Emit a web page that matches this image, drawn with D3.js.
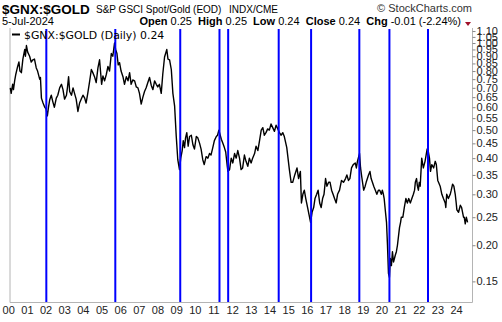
<!DOCTYPE html>
<html>
<head>
<meta charset="utf-8">
<script src="https://cdn.jsdelivr.net/npm/d3@7"></script>
<style>
  html, body { margin: 0; padding: 0; background: #fff; }
  svg { display: block; }
  text { font-family: "Liberation Sans", Arial, sans-serif; }
</style>
</head>
<body>
<svg id="chart" width="502" height="322"></svg>
<script>
// $GNX:$GOLD ratio, daily close (sampled): swing points
const dates = [
  "2000-01-03","2000-02-18","2000-03-28","2000-05-26","2000-08-07","2000-10-12","2000-11-14","2000-12-08",
  "2001-01-15","2001-03-21","2001-05-25","2001-07-31","2001-09-03","2001-11-07","2001-12-28",
  "2002-02-11","2002-04-16","2002-06-21","2002-08-26","2002-10-30",
  "2003-01-06","2003-02-17","2003-04-14","2003-06-13","2003-08-18","2003-10-23","2003-12-29",
  "2004-02-27","2004-05-07","2004-07-08","2004-09-13","2004-10-15","2004-11-24",
  "2005-01-21","2005-03-28","2005-06-02","2005-08-04","2005-09-20","2005-11-10",
  "2006-01-16","2006-03-23","2006-05-26","2006-07-27","2006-10-04","2006-12-05",
  "2007-01-08","2007-03-14","2007-05-18","2007-07-23","2007-09-27","2007-11-28",
  "2008-02-04","2008-04-09","2008-05-23","2008-07-16","2008-08-19","2008-09-19","2008-10-23","2008-11-24","2008-12-24",
  "2009-01-26","2009-03-20","2009-05-05","2009-06-18","2009-08-11","2009-10-16","2009-12-21",
  "2010-02-24","2010-04-27","2010-07-01","2010-09-06","2010-11-09",
  "2011-01-17","2011-03-08","2011-04-25","2011-06-24","2011-08-19","2011-10-03","2011-12-06",
  "2012-01-09","2012-03-12","2012-05-16","2012-07-20","2012-09-24","2012-11-28",
  "2013-02-04","2013-04-09","2013-06-14","2013-08-14","2013-10-18","2013-12-23",
  "2014-02-28","2014-05-05","2014-07-09","2014-09-09","2014-10-27","2014-12-17",
  "2015-01-20","2015-02-20","2015-05-15","2015-07-20","2015-09-07","2015-11-03","2015-12-09",
  "2016-02-05","2016-04-05","2016-06-03","2016-08-01","2016-09-27","2016-11-24",
  "2017-01-23","2017-03-22","2017-05-19","2017-07-17","2017-10-02","2017-12-20",
  "2018-02-16","2018-04-16","2018-06-28","2018-08-10","2018-09-20","2018-11-02",
  "2019-01-08","2019-02-21","2019-04-12","2019-05-30","2019-07-26","2019-09-24","2019-11-20","2019-12-31",
  "2020-02-10","2020-03-20","2020-04-08","2020-04-27","2020-06-05","2020-07-16","2020-08-21","2020-10-01","2020-11-10","2020-12-16",
  "2021-02-12","2021-04-13","2021-06-10","2021-08-09","2021-09-16","2021-10-27","2021-12-02",
  "2022-01-19","2022-03-25","2022-05-05","2022-05-30","2022-08-04","2022-10-10","2022-11-29","2022-12-14",
  "2023-02-17","2023-04-24","2023-05-23","2023-07-31","2023-09-15","2023-11-06","2023-12-08",
  "2024-02-14","2024-04-16","2024-05-20","2024-07-05"
];
const values = [
  0.70,0.72,0.74,0.83,0.79,0.95,0.98,0.93,
  0.90,0.875,0.82,0.75,0.645,0.60,0.56,
  0.635,0.625,0.645,0.70,0.69,
  0.66,0.765,0.66,0.67,0.58,0.64,0.645,
  0.67,0.81,0.765,0.82,0.875,0.72,
  0.74,0.83,0.92,1.00,0.92,0.855,
  0.765,0.765,0.79,0.745,0.705,0.67,
  0.615,0.68,0.73,0.715,0.74,0.705,
  0.67,0.895,0.95,0.875,0.81,0.67,0.605,0.475,0.395,
  0.365,0.425,0.435,0.49,0.475,0.445,0.475,
  0.45,0.395,0.405,0.415,0.435,
  0.475,0.50,0.465,0.435,0.375,0.365,0.385,
  0.415,0.425,0.365,0.41,0.375,0.385,
  0.415,0.425,0.50,0.48,0.505,0.525,
  0.495,0.505,0.48,0.475,0.435,0.365,
  0.33,0.33,0.37,0.36,0.30,0.29,0.27,
  0.24,0.27,0.30,0.28,0.29,0.34,
  0.33,0.31,0.29,0.30,0.335,0.34,
  0.335,0.37,0.385,0.39,0.415,0.345,
  0.32,0.34,0.36,0.33,0.31,0.31,0.30,0.30,
  0.26,0.20,0.16,0.155,0.17,0.175,0.185,0.20,0.23,0.25,
  0.27,0.28,0.28,0.30,0.33,0.32,0.33,
  0.40,0.39,0.43,0.42,0.38,0.39,0.335,0.33,
  0.30,0.28,0.30,0.30,0.325,0.30,0.265,
  0.275,0.25,0.237,0.24
];

// closes between the swing points
const midDates = [
  "2000-01-20","2000-03-05","2000-04-20","2000-06-20","2000-07-10","2000-09-05","2000-10-25",
  "2001-02-15","2001-04-20","2001-06-20","2001-08-15","2001-10-05","2001-12-05",
  "2002-01-20","2002-03-15","2002-05-15","2002-07-20","2002-09-30","2002-11-30",
  "2003-01-25","2003-03-10","2003-05-15","2003-07-15","2003-09-20","2003-11-25",
  "2004-01-25","2004-04-05","2004-06-05","2004-08-10","2004-12-20",
  "2005-02-25","2005-04-28","2005-07-01","2005-08-25","2005-10-15","2005-12-10",
  "2006-02-15","2006-04-25","2006-06-25","2006-09-01","2006-11-05",
  "2007-02-10","2007-04-15","2007-06-20","2007-08-25","2007-10-30","2007-12-30",
  "2008-03-05","2008-06-15",
  "2009-02-20","2009-04-10","2009-05-25","2009-07-15","2009-09-15","2009-11-15",
  "2010-01-20","2010-03-25","2010-05-25","2010-08-05","2010-10-05","2010-12-10",
  "2011-02-10","2011-05-25","2011-07-20","2011-09-01","2011-11-05",
  "2012-02-10","2012-04-15","2012-06-15","2012-08-20","2012-10-25","2012-12-28",
  "2013-03-05","2013-05-12","2013-07-15","2013-09-15","2013-11-20",
  "2014-01-25","2014-04-01","2014-06-05","2014-08-10",
  "2015-04-01","2015-06-15","2015-08-10","2015-10-05",
  "2016-03-05","2016-05-01","2016-07-01","2016-08-30","2016-10-25","2016-12-20",
  "2017-02-20","2017-04-20","2017-06-20","2017-08-25","2017-11-10",
  "2018-01-15","2018-03-15","2018-05-20","2018-07-20","2018-10-10","2018-12-10",
  "2019-01-28","2019-03-15","2019-05-05","2019-06-25","2019-08-25","2019-10-20","2019-12-10",
  "2020-01-15","2020-03-01","2020-05-15","2020-06-25","2020-09-10","2020-12-01",
  "2021-01-15","2021-03-15","2021-05-10","2021-07-10","2021-09-01","2021-10-10","2021-11-15","2021-12-20",
  "2022-02-20","2022-04-15","2022-06-20","2022-07-10","2022-09-10","2022-11-01",
  "2023-01-15","2023-03-20","2023-05-05","2023-06-25","2023-08-20","2023-10-10","2023-11-25",
  "2024-01-10","2024-03-10","2024-04-30","2024-06-10"
];
const midValues = [
  0.67,0.69,0.78,0.86,0.80,0.88,0.90,
  0.86,0.88,0.80,0.76,0.62,0.59,
  0.60,0.66,0.60,0.66,0.72,0.64,
  0.70,0.68,0.70,0.64,0.62,0.66,
  0.62,0.74,0.79,0.73,0.77,
  0.78,0.80,0.90,0.95,0.84,0.80,
  0.72,0.74,0.72,0.74,0.70,
  0.65,0.70,0.76,0.69,0.72,0.72,
  0.78,0.88,
  0.40,0.46,0.47,0.44,0.48,0.43,
  0.47,0.43,0.38,0.40,0.41,0.46,
  0.48,0.45,0.42,0.36,0.40,
  0.40,0.40,0.37,0.39,0.40,0.40,
  0.44,0.46,0.51,0.49,0.50,
  0.51,0.52,0.49,0.49,
  0.35,0.34,0.28,0.31,
  0.26,0.29,0.31,0.27,0.30,0.32,
  0.33,0.30,0.28,0.31,0.33,
  0.35,0.34,0.38,0.37,0.37,0.31,
  0.33,0.35,0.34,0.32,0.30,0.31,0.31,
  0.29,0.24,0.18,0.19,0.19,0.24,
  0.25,0.29,0.29,0.29,0.31,0.34,0.31,0.32,
  0.37,0.41,0.40,0.36,0.37,0.38,
  0.32,0.29,0.27,0.29,0.31,0.32,0.28,
  0.26,0.27,0.25,0.25
];

// vertical marker dates
const markerDates = [
  "2001-12-08","2005-08-19","2009-02-10","2011-03-20","2011-09-06",
  "2014-05-22","2016-02-15","2018-09-16","2020-04-27","2022-05-22"
];

const yTicks = [0.15,0.20,0.25,0.30,0.35,0.40,0.45,0.50,0.55,0.60,0.65,0.70,0.75,0.80,0.85,0.90,0.95,1.00,1.05,1.10];
const yearLabels = ["00","01","02","03","04","05","06","07","08","09","10","11","12","13","14","15","16","17","18","19","20","21","22","23","24"];

const parse = d3.timeParse("%Y-%m-%d");
const series = dates.map((d, i) => ({ date: parse(d), value: values[i] }))
  .concat(midDates.map((d, i) => ({ date: parse(d), value: midValues[i] })))
  .sort((a, b) => a.date - b.date);
const lastValue = values[values.length - 1];

const svg = d3.select("#chart");
const plot = { left: 10, right: 472.5, top: 29, bottom: 302.5 };

const x = d3.scaleTime()
  .domain([parse("2000-01-01"), parse("2024-07-05")])
  .range([10.2, 467.6]);

const y = d3.scaleLog()
  .domain([0.1268, 1.127])
  .range([plot.bottom, plot.top - 1]);

// frame: left, right and bottom edges
const frame = svg.append("g").attr("stroke", "#b4b4b4").attr("stroke-width", 1).attr("fill", "none");
frame.append("line").attr("x1", plot.left).attr("x2", plot.left).attr("y1", plot.top - 1).attr("y2", plot.bottom);
frame.append("line").attr("x1", plot.right).attr("x2", plot.right).attr("y1", plot.top - 1).attr("y2", plot.bottom);
frame.append("line").attr("x1", plot.left).attr("x2", plot.right).attr("y1", plot.bottom).attr("y2", plot.bottom);

// right-hand log axis
const yAxis = d3.axisRight(y)
  .tickValues(yTicks)
  .tickSize(3)
  .tickPadding(1)
  .tickFormat(d3.format(".2f"));
const yg = svg.append("g")
  .attr("transform", `translate(${plot.right},0)`)
  .call(yAxis);
yg.select(".domain").remove();
yg.selectAll(".tick line").attr("stroke", "#888");
yg.selectAll(".tick text")
  .attr("fill", "#222")
  .style("font-family", "'Liberation Sans', Arial, sans-serif")
  .style("font-size", "11px");

// year labels along the bottom
svg.append("g")
  .selectAll("text")
  .data(yearLabels)
  .join("text")
  .attr("x", d => x(parse(`20${d}-01-01`)) - 1.5)
  .attr("y", 314)
  .attr("text-anchor", "middle")
  .attr("fill", "#222")
  .style("font-size", "11px")
  .text(d => d);

// price line
const line = d3.line()
  .x(d => x(d.date))
  .y(d => y(d.value));

svg.append("path")
  .datum(series)
  .attr("fill", "none")
  .attr("stroke", "#000")
  .attr("stroke-width", 1.4)
  .attr("stroke-linejoin", "round")
  .attr("d", line);

// blue vertical markers
svg.append("g")
  .selectAll("line")
  .data(markerDates)
  .join("line")
  .attr("x1", d => x(parse(d)))
  .attr("x2", d => x(parse(d)))
  .attr("y1", plot.top)
  .attr("y2", plot.bottom - 0.5)
  .attr("stroke", "#0000ff")
  .attr("stroke-width", 2);

// legend
svg.append("line")
  .attr("x1", 12).attr("x2", 20).attr("y1", 34.5).attr("y2", 34.5)
  .attr("stroke", "#000").attr("stroke-width", 2);
svg.append("text")
  .attr("x", 24).attr("y", 38.5)
  .style("font-family", "'DejaVu Sans', Verdana, sans-serif")
  .style("font-size", "10.9px")
  .attr("fill", "#000")
  .text(`$GNX:$GOLD (Daily) ${lastValue.toFixed(2)}`);

// header
svg.append("text")
  .attr("x", 2).attr("y", 14)
  .style("font-size", "13.5px").style("font-weight", "bold")
  .text("$GNX:$GOLD");
svg.append("text")
  .attr("x", 96).attr("y", 13)
  .style("font-size", "10px")
  .text("S&P GSCI Spot/Gold (EOD)");
svg.append("text")
  .attr("x", 229).attr("y", 13)
  .style("font-size", "10px")
  .text("INDX/CME");
svg.append("text")
  .attr("x", 472).attr("y", 12)
  .attr("text-anchor", "end")
  .attr("fill", "#333")
  .style("font-size", "11px")
  .text("© StockCharts.com");
svg.append("text")
  .attr("x", 2).attr("y", 25)
  .style("font-size", "11px")
  .text("5-Jul-2024");

const stats = svg.append("text")
  .attr("x", 461).attr("y", 25)
  .attr("text-anchor", "end")
  .attr("xml:space", "preserve")
  .style("font-size", "11px");
[["Open", " 0.25  "], ["High", " 0.25  "], ["Low", " 0.24  "], ["Close", " 0.24  "], ["Chg", " -0.01 (-2.24%)"]]
  .forEach(([k, v]) => {
    stats.append("tspan").style("font-weight", "bold").text(k);
    stats.append("tspan").text(v);
  });

svg.append("path")
  .attr("d", "M465,22 L471,22 L468,26 Z")
  .attr("fill", "#a0102a");
</script>
</body>
</html>
